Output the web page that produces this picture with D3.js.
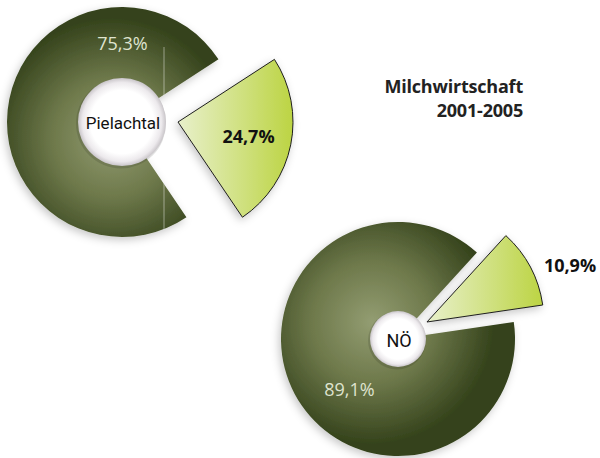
<!DOCTYPE html>
<html><head><meta charset="utf-8">
<script src="https://cdn.jsdelivr.net/npm/d3@7/dist/d3.min.js"></script>
<style>
html,body{margin:0;padding:0;background:#fff;}
svg{display:block;font-family:"Open Sans","Noto Sans",sans-serif;}
</style></head>
<body>
<svg id="chart" width="600" height="458"></svg>
<script>
// ---- data ----
const regions = ["Pielachtal", "NÖ"];
const shareOther = [75.3, 89.1];      // large slice (%)
const shareMilk = [24.7, 10.9];       // exploded slice (%)
const labelOther = ["75,3%", "89,1%"];
const labelMilk = ["24,7%", "10,9%"];
const titleLines = ["Milchwirtschaft", "2001-2005"];

// ---- layout / style ----
const layout = [
  {cx:122, cy:122, r:115, hole:44, startDeg:57,  explode:[56, 90],
   gradC:[112,138], lblOther:[122.5,50], lblMilk:[248.5,143], nameY:129, nameSize:17},
  {cx:398, cy:339, r:117, hole:28, startDeg:42.4, explode:[33.6, 59.6],
   gradC:[372,322], lblOther:[349.5,396], lblMilk:[570,272], nameY:347, nameSize:18}
];

const svg = d3.select("#chart");
const defs = svg.append("defs");

const sh = defs.append("filter").attr("id","shadow").attr("x","-30%").attr("y","-30%").attr("width","160%").attr("height","160%");
sh.append("feDropShadow").attr("dx",-2).attr("dy",3).attr("stdDeviation",4).attr("flood-color","#000").attr("flood-opacity",0.22);

const lg = defs.append("linearGradient").attr("id","milkGrad").attr("x1",0).attr("x2",1).attr("y1",0).attr("y2",0);
lg.append("stop").attr("offset",0).attr("stop-color","#e8f0cb");
lg.append("stop").attr("offset",1).attr("stop-color","#bcd443");

const hg = defs.append("radialGradient").attr("id","holeGrad");
hg.append("stop").attr("offset",0).attr("stop-color","#ffffff");
hg.append("stop").attr("offset",0.72).attr("stop-color","#ffffff");
hg.append("stop").attr("offset",0.9).attr("stop-color","#ece9ec");
hg.append("stop").attr("offset",1).attr("stop-color","#c9c5c9");

layout.forEach((L,i)=>{
  const g = svg.append("g").attr("transform",`translate(${L.cx},${L.cy})`);
  const rg = defs.append("radialGradient").attr("id","otherGrad"+i)
    .attr("gradientUnits","userSpaceOnUse")
    .attr("cx",L.gradC[0]-L.cx).attr("cy",L.gradC[1]-L.cy).attr("r",L.r*1.05)
    .attr("fx",L.gradC[0]-L.cx).attr("fy",L.gradC[1]-L.cy);
  rg.append("stop").attr("offset",0).attr("stop-color","#939d72");
  rg.append("stop").attr("offset",0.5).attr("stop-color","#6d784a");
  rg.append("stop").attr("offset",1).attr("stop-color","#34421b");

  const s0 = L.startDeg*Math.PI/180;
  const pie = d3.pie().sort(null).value(d=>d.v).startAngle(s0).endAngle(s0+2*Math.PI);
  const arcs = pie([{k:"milk",v:shareMilk[i]},{k:"other",v:shareOther[i]}]);
  const arc = d3.arc().innerRadius(0).outerRadius(L.r);

  const other = arcs[1];
  g.append("path").attr("d",arc(other)).attr("fill",`url(#otherGrad${i})`).attr("filter","url(#shadow)");

  if(i===0){
    const clip = defs.append("clipPath").attr("id","clip0");
    clip.append("path").attr("d",arc(other));
    g.append("line").attr("x1",42).attr("x2",42).attr("y1",-75).attr("y2",L.r)
      .attr("stroke","#ffffff").attr("stroke-opacity",0.45).attr("stroke-width",1)
      .attr("clip-path","url(#clip0)");
  }

  const milk = arcs[0];
  const ea = L.explode[1]*Math.PI/180;
  const ex = Math.sin(ea)*L.explode[0], ey = -Math.cos(ea)*L.explode[0];
  g.append("path").attr("d",arc(milk)).attr("transform",`translate(${ex},${ey})`)
    .attr("fill","url(#milkGrad)").attr("stroke","#1e1e1e").attr("stroke-width",1).attr("filter","url(#shadow)");

  g.append("circle").attr("r",L.hole+1).attr("fill","#000").attr("opacity",0.12).attr("cx",-1).attr("cy",1.5);
  g.append("circle").attr("r",L.hole).attr("fill","url(#holeGrad)");
  svg.append("text").attr("x",L.cx+1).attr("y",L.nameY).attr("text-anchor","middle")
    .attr("font-family","Roboto, 'Open Sans', sans-serif")
    .attr("font-size",L.nameSize).attr("fill","#111").text(regions[i]);

  svg.append("text").attr("x",L.lblOther[0]).attr("y",L.lblOther[1]).attr("text-anchor","middle")
    .attr("font-size",18).attr("fill","#dfe3cf").text(labelOther[i]);
  svg.append("text").attr("x",L.lblMilk[0]).attr("y",L.lblMilk[1]).attr("text-anchor","middle")
    .attr("font-size",18).attr("font-weight","bold").attr("fill","#111").text(labelMilk[i]);
});

svg.selectAll("text.title").data(titleLines).enter().append("text").attr("class","title")
  .attr("x",523).attr("y",(d,j)=>93+j*24).attr("text-anchor","end")
  .attr("font-size",18).attr("font-weight","bold").attr("letter-spacing","-0.2").attr("fill","#222").text(d=>d);
</script>
</body></html>
